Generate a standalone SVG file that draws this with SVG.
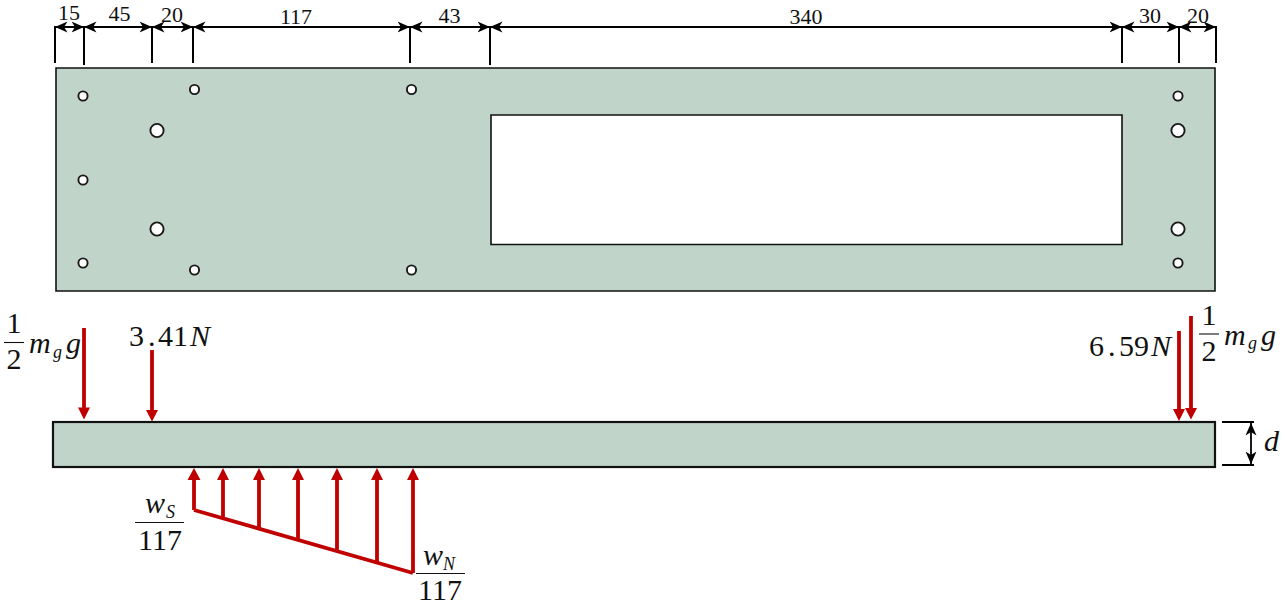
<svg xmlns="http://www.w3.org/2000/svg" width="1287" height="605" viewBox="0 0 1287 605">
<style>
.plate{fill:#c1d4ca;stroke:#111;stroke-width:1.6}
.beam{fill:#c1d4ca;stroke:#111;stroke-width:2.2}
.hole{fill:#fff;stroke:#1a1a1a;stroke-width:1.9}
.tick{stroke:#000;stroke-width:2;fill:none}
.dim{stroke:#000;stroke-width:2;fill:none;marker-start:url(#bk);marker-end:url(#bk)}
.force{stroke:#c00000;stroke-width:3.8;fill:none}
.load{stroke:#c00000;stroke-width:3.8;fill:none}
.head{fill:#c00000}
.rule{stroke:#111;stroke-width:1.1;fill:none}
text{font-family:"Liberation Serif","Times New Roman",serif;fill:#111}
.d{font-size:22px;text-anchor:middle}
.m{font-size:30px}
.f{font-size:30px;text-anchor:middle}
.i{font-style:italic}
.s{font-size:18px;font-style:italic}
</style>
<defs>
<marker id="bk" viewBox="0 0 13 13" refX="12.5" refY="6.5" markerWidth="13" markerHeight="13" markerUnits="userSpaceOnUse" orient="auto-start-reverse">
<path d="M0 1 L12.500 6.500 L0 12 L3.500 6.500 Z" fill="#000"/>
</marker>
</defs>

<g id="plate">
<path class="plate" fill-rule="evenodd" d="M56 68H1215V291H56Z M491 115V244.500H1122V115Z"/>
<g id="holes">
<circle class="hole" cx="83" cy="96" r="4.600"/>
<circle class="hole" cx="83" cy="180" r="4.600"/>
<circle class="hole" cx="83" cy="263" r="4.600"/>
<circle class="hole" cx="194.500" cy="89.500" r="4.600"/>
<circle class="hole" cx="194.500" cy="270" r="4.600"/>
<circle class="hole" cx="411.500" cy="89.500" r="4.600"/>
<circle class="hole" cx="411.500" cy="270" r="4.600"/>
<circle class="hole" cx="157" cy="130.500" r="6.600"/>
<circle class="hole" cx="157" cy="229" r="6.600"/>
<circle class="hole" cx="1178" cy="96" r="4.600"/>
<circle class="hole" cx="1178" cy="263" r="4.600"/>
<circle class="hole" cx="1178" cy="130.500" r="6.600"/>
<circle class="hole" cx="1178" cy="229" r="6.600"/>
</g>
</g>

<g id="dimensions">
<path class="tick" d="M55 26V63M84 26V65M152 26V63M193 26V63M410 26V63M490 26V65M1122 26V63M1179 26V63M1216 26V63"/>
<path class="dim" d="M55 27H84"/>
<path class="dim" d="M84 27H152"/>
<path class="dim" d="M152 27H193"/>
<path class="dim" d="M193 27H410"/>
<path class="dim" d="M410 27H490"/>
<path class="dim" d="M490 27H1122"/>
<path class="dim" d="M1122 27H1179"/>
<path class="dim" d="M1179 27H1216"/>
<text class="d" x="69" y="20">15</text>
<text class="d" x="119.500" y="21">45</text>
<text class="d" x="172" y="22">20</text>
<text class="d" x="296" y="24">117</text>
<text class="d" x="449.500" y="23">43</text>
<text class="d" x="806" y="24">340</text>
<text class="d" x="1150" y="23">30</text>
<text class="d" x="1198" y="23">20</text>
</g>

<g id="beam">
<rect class="beam" x="53" y="422" width="1162" height="45"/>
</g>

<g id="thickness">
<path class="tick" d="M1222 422H1254M1222 465H1254"/>
<path class="dim" style="stroke-width:1.8" d="M1251 423V464"/>
<text class="m i" x="1264" y="451">d</text>
</g>

<g id="connectors">
<g id="down-forces">
<path class="force" d="M84 328V410M152 350V412M1179 331V410M1191 316V409"/>
<path class="head" d="M78 407.500H90L84 419.500ZM146 410H158L152 421.500ZM1173 409H1185L1179 421ZM1185 408H1197L1191 419.500Z"/>
</g>
<g id="distributed-load">
<path class="load" d="M194 479V510M223 478V518M259 478V528M298 478V539M337 478V551M377 478V562M413 478V573"/>
<path class="load" stroke-linejoin="round" d="M194 510L413 573"/>
<path class="head" d="M187.500 480H200.500L194 468ZM217 480H229L223 468ZM253 480H265L259 468ZM292 480H304L298 468ZM331 480H343L337 468ZM371 480H383L377 468ZM407 480H419L413 468Z"/>
</g>
</g>

<g id="labels">
<text class="f" x="14" y="333">1</text>
<path class="rule" d="M4 342.500H24"/>
<text class="f" x="14" y="369">2</text>
<text class="m i" x="29" y="353">m</text>
<text class="s" x="53" y="358">g</text>
<text class="m i" x="66" y="353">g</text>

<text class="m" x="129" y="346">3<tspan x="148">.</tspan><tspan x="158">41</tspan><tspan class="i" x="190">N</tspan></text>
<text class="m" x="1089" y="356">6<tspan x="1108">.</tspan><tspan x="1119">59</tspan><tspan class="i" x="1151">N</tspan></text>

<text class="f" x="1209" y="325">1</text>
<path class="rule" d="M1199 334H1219"/>
<text class="f" x="1209" y="361">2</text>
<text class="m i" x="1224" y="345">m</text>
<text class="s" x="1248" y="349">g</text>
<text class="m i" x="1261" y="345">g</text>

<text class="m i" x="145" y="513">w<tspan class="s" x="166" y="518">S</tspan></text>
<path class="rule" d="M135 522.500H184"/>
<text class="f" x="160" y="550">117</text>

<text class="m i" x="423" y="565">w<tspan class="s" x="443" y="570">N</tspan></text>
<path class="rule" d="M416 573.500H465"/>
<text class="f" x="440" y="600">117</text>
</g>
</svg>
